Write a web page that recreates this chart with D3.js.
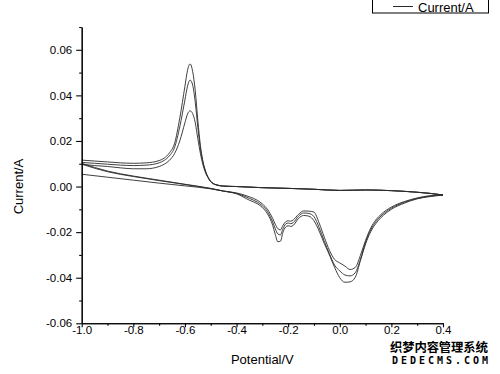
<!DOCTYPE html>
<html>
<head>
<meta charset="utf-8">
<script src="https://cdn.jsdelivr.net/npm/d3@7"></script>
<style>
  body { margin: 0; background: #fff; }
  text { font-family: Arial, "Liberation Sans", sans-serif; fill: #000; }
</style>
</head>
<body>
<div id="chart-area"></div>
<script>
// forward scan (-1.0 -> 0.4)
let fwdV = [-1.0, -0.95, -0.9, -0.85, -0.8, -0.75, -0.7, -0.68, -0.66, -0.64, -0.62, -0.60, -0.59, -0.58,
    -0.57, -0.56, -0.55, -0.54, -0.53, -0.52, -0.51, -0.50, -0.48, -0.45, -0.4, -0.3, -0.2, -0.1,
    0.0, 0.1, 0.2, 0.3, 0.35, 0.4];
let fwdA = [0.0116, 0.0112, 0.0108, 0.0104, 0.0102, 0.0104, 0.0114, 0.0125, 0.0148, 0.0190, 0.0300, 0.0440, 0.0510, 0.0538,
    0.0505, 0.0420, 0.0290, 0.0180, 0.0110, 0.0068, 0.0040, 0.0022, 0.0008, 0.0002, 0.0000, -0.0005, -0.0008, -0.0012,
    -0.0017, -0.0015, -0.0018, -0.0025, -0.0030, -0.0037];
let fwdB = [0.0106, 0.0102, 0.0098, 0.0094, 0.0092, 0.0094, 0.0104, 0.0115, 0.0135, 0.0172, 0.0262, 0.0380, 0.0440, 0.0467,
    0.0445, 0.0370, 0.0260, 0.0165, 0.0105, 0.0065, 0.0040, 0.0022, 0.0008, 0.0002, 0.0000, -0.0005, -0.0008, -0.0012,
    -0.0017, -0.0015, -0.0018, -0.0025, -0.0030, -0.0037];
let fwdC = [0.0098, 0.0092, 0.0088, 0.0082, 0.0078, 0.0078, 0.0088, 0.0098, 0.0115, 0.0145, 0.0200, 0.0280, 0.0318, 0.0332,
    0.0320, 0.0280, 0.0210, 0.0145, 0.0095, 0.0060, 0.0038, 0.0022, 0.0008, 0.0002, 0.0000, -0.0005, -0.0008, -0.0012,
    -0.0017, -0.0015, -0.0018, -0.0025, -0.0030, -0.0037];

// reverse scan (0.4 -> -1.0), listed by increasing potential
let revV = [-1.0, -0.9, -0.8, -0.7, -0.6, -0.5, -0.45, -0.4, -0.35, -0.32, -0.30, -0.28, -0.26, -0.25, -0.24, -0.23,
    -0.22, -0.21, -0.20, -0.19, -0.18, -0.16, -0.14, -0.12, -0.10, -0.08, -0.06, -0.04, -0.02, 0.0, 0.02, 0.04,
    0.06, 0.08, 0.10, 0.12, 0.14, 0.16, 0.2, 0.25, 0.3, 0.35, 0.4];
let revA = [0.0102, 0.0068, 0.0046, 0.0028, 0.0010, -0.0008, -0.0020, -0.0032, -0.0060, -0.0075, -0.0092, -0.0120, -0.0170, -0.0210, -0.0242, -0.0240,
    -0.0200, -0.0178, -0.0172, -0.0175, -0.0170, -0.0140, -0.0127, -0.0130, -0.0150, -0.0195, -0.0250, -0.0300, -0.0355, -0.0400, -0.0420, -0.0418,
    -0.0398, -0.0325, -0.0252, -0.0198, -0.0162, -0.0136, -0.0100, -0.0073, -0.0054, -0.0044, -0.0037];
let revB = [0.0098, 0.0065, 0.0044, 0.0026, 0.0009, -0.0009, -0.0020, -0.0030, -0.0052, -0.0068, -0.0084, -0.0110, -0.0155, -0.0185, -0.0208, -0.0212,
    -0.0185, -0.0165, -0.0160, -0.0163, -0.0158, -0.0130, -0.0116, -0.0118, -0.0132, -0.0180, -0.0240, -0.0295, -0.0345, -0.0370, -0.0388, -0.0392,
    -0.0378, -0.0320, -0.0244, -0.0190, -0.0154, -0.0129, -0.0095, -0.0069, -0.0052, -0.0042, -0.0037];
let revC = [0.0054, 0.0041, 0.0028, 0.0015, 0.0003, -0.0010, -0.0020, -0.0028, -0.0045, -0.0060, -0.0076, -0.0100, -0.0140, -0.0165, -0.0185, -0.0190,
    -0.0170, -0.0155, -0.0150, -0.0152, -0.0146, -0.0122, -0.0107, -0.0108, -0.0112, -0.0160, -0.0222, -0.0280, -0.0320, -0.0335, -0.0349, -0.0364,
    -0.0355, -0.0302, -0.0236, -0.0182, -0.0146, -0.0122, -0.0090, -0.0066, -0.0050, -0.0040, -0.0037];

let xTicks = [-1.0, -0.8, -0.6, -0.4, -0.2, 0.0, 0.2, 0.4];
let xMinor = [-0.9, -0.7, -0.5, -0.3, -0.1, 0.1, 0.3];
let yTicks = [-0.06, -0.04, -0.02, 0.00, 0.02, 0.04, 0.06];
let yMinor = [-0.05, -0.03, -0.01, 0.01, 0.03, 0.05, 0.07];

let width = 500, height = 374;

let svg = d3.select("#chart-area").append("svg")
    .attr("width", width)
    .attr("height", height);

let x = d3.scaleLinear()
    .domain([-1.0, 0.4])
    .range([81.7, 443]);

let y = d3.scaleLinear()
    .domain([-0.06, 0.07])
    .range([323.3, 27]);

// curves
let line = d3.line()
    .curve(d3.curveMonotoneX)
    .x(d => x(d[0]))
    .y(d => y(d[1]));

let branches = [
    [fwdV, fwdA], [fwdV, fwdB], [fwdV, fwdC],
    [revV, revA], [revV, revB], [revV, revC]
];

branches.forEach(function (b) {
    let pts = b[0].map((v, i) => [v, b[1][i]]);
    svg.append("path")
        .datum(pts)
        .attr("fill", "none")
        .attr("stroke", "#2a2a2a")
        .attr("stroke-width", 0.9)
        .attr("d", line);
});

// axes
let xAxis = d3.axisBottom(x).tickValues(xTicks).tickSize(4).tickSizeOuter(0).tickPadding(-1)
    .tickFormat(d => d.toFixed(1));
let xAxisMinor = d3.axisBottom(x).tickValues(xMinor).tickSize(2.5).tickSizeOuter(0).tickFormat("");
let yAxis = d3.axisLeft(y).tickValues(yTicks).tickSize(5.5).tickSizeOuter(0).tickPadding(4)
    .tickFormat(d => d.toFixed(2));
let yAxisMinor = d3.axisLeft(y).tickValues(yMinor).tickSize(2.5).tickSizeOuter(0).tickFormat("");

svg.append("g").attr("class", "x-axis axis")
    .attr("transform", "translate(0," + y(-0.06) + ")")
    .call(xAxisMinor);
svg.append("g").attr("class", "x-axis axis")
    .attr("transform", "translate(0," + y(-0.06) + ")")
    .call(xAxis);
svg.append("g").attr("class", "y-axis axis")
    .attr("transform", "translate(" + x(-1.0) + ",0)")
    .call(yAxisMinor);
svg.append("g").attr("class", "y-axis axis")
    .attr("transform", "translate(" + x(-1.0) + ",0)")
    .call(yAxis);

svg.selectAll(".axis path, .axis line").attr("stroke", "#000").attr("stroke-width", 1.1);
svg.selectAll(".axis text")
    .style("font-family", "Arial, 'Liberation Sans', sans-serif")
    .style("font-size", "11.5px")
    .attr("fill", "#000");

// axis titles
svg.append("text")
    .attr("x", (x(-1.0) + x(0.4)) / 2)
    .attr("y", 364)
    .attr("text-anchor", "middle")
    .style("font-size", "13px")
    .text("Potential/V");

svg.append("text")
    .attr("transform", "translate(23," + y(0) + ") rotate(-90)")
    .attr("text-anchor", "middle")
    .style("font-size", "13px")
    .text("Current/A");

// legend
svg.append("rect")
    .attr("x", 372.5).attr("y", -1)
    .attr("width", 116).attr("height", 14)
    .attr("fill", "#fff")
    .attr("stroke", "#000")
    .attr("stroke-width", 1);
svg.append("line")
    .attr("x1", 393).attr("x2", 413)
    .attr("y1", 6.5).attr("y2", 6.5)
    .attr("stroke", "#2a2a2a")
    .attr("stroke-width", 1);
svg.append("text")
    .attr("x", 418).attr("y", 11.5)
    .style("font-size", "13px")
    .text("Current/A");

// watermark
svg.append("text")
    .attr("x", 390).attr("y", 352)
    .attr("textLength", 98)
    .style("font-family", "'Noto Sans CJK SC', sans-serif")
    .style("font-size", "12.5px")
    .style("font-weight", "bold")
    .attr("stroke", "#fff").attr("stroke-width", 2.5)
    .style("paint-order", "stroke")
    .text("织梦内容管理系统");
svg.append("text")
    .attr("x", 392).attr("y", 364)
    .attr("textLength", 96)
    .style("font-family", "'DejaVu Sans Mono', monospace")
    .style("font-size", "10px")
    .style("font-weight", "bold")
    .attr("stroke", "#fff").attr("stroke-width", 2)
    .style("paint-order", "stroke")
    .text("DEDECMS.COM");
</script>
</body>
</html>
